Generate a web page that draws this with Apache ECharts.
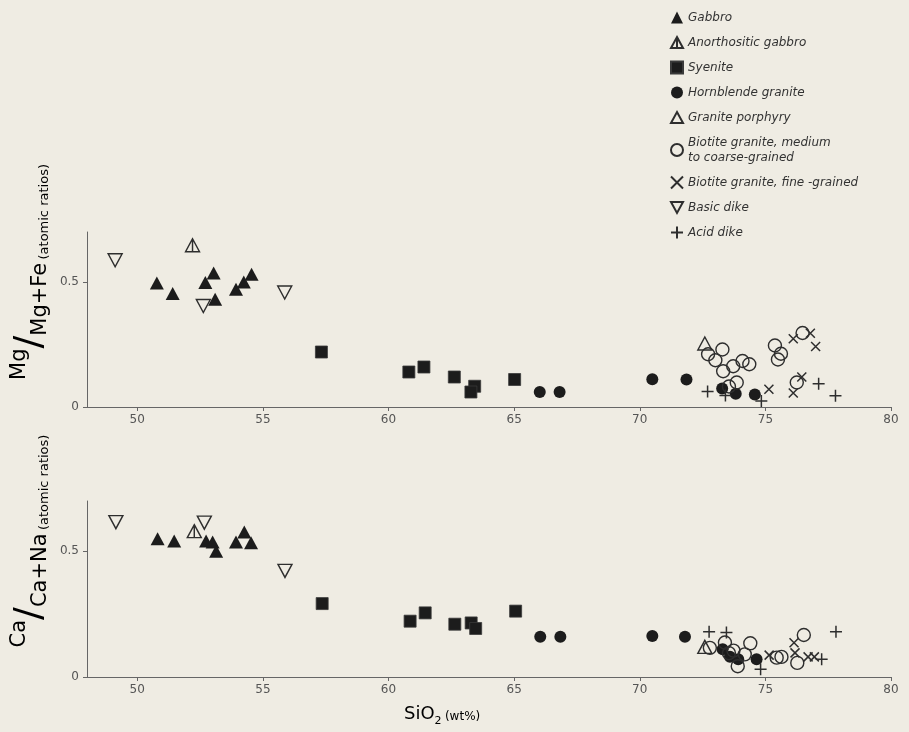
<!DOCTYPE html>
<html><head><meta charset="utf-8">
<script src="https://cdn.jsdelivr.net/npm/echarts@6/dist/echarts.min.js"></script>
<style>html,body{margin:0;padding:0;background:#efece3}#c{width:909px;height:732px}</style>
</head><body><div id="c"></div>
<script>
// ---- tick labels ----
const xTicks = [50, 55, 60, 65, 70, 75, 80];
const yTicks = [0, 0.5];
const groupNames = ['Gabbro','Anorthositic gabbro','Syenite','Hornblende granite','Granite porphyry',
  'Biotite granite, medium\nto coarse-grained','Biotite granite, fine -grained','Basic dike','Acid dike'];

// ---- Mg/(Mg+Fe) vs SiO2 : [SiO2, ratio] ----
const gabbroMg = [[50.78,0.496],[51.41,0.454],[52.71,0.498],[53.04,0.536],[53.10,0.431],[53.93,0.471],[54.24,0.50],[54.55,0.531]];
const anorthMg = [[52.2,0.647]];
const syeniteMg = [[57.33,0.22],[60.81,0.14],[61.41,0.16],[62.62,0.12],[63.43,0.083],[63.28,0.06],[65.02,0.11]];
const hornblendeMg = [[66.02,0.06],[66.81,0.06],[70.5,0.111],[71.86,0.11],[73.28,0.074],[73.82,0.053],[74.58,0.05]];
const porphyryMg = [[72.59,0.254]];
const biotiteMcMg = [[72.72,0.211],[73.29,0.23],[73.01,0.187],[73.32,0.143],[73.72,0.163],[74.09,0.184],[74.36,0.171],[73.86,0.098],[73.55,0.082],[75.38,0.246],[75.62,0.213],[75.5,0.19],[76.48,0.296],[76.25,0.098]];
const biotiteFineMg = [[75.14,0.071],[76.11,0.273],[76.79,0.295],[77.0,0.242],[76.45,0.12],[76.11,0.056]];
const basicDikeMg = [[49.12,0.587],[52.63,0.404],[55.87,0.458]];
const acidDikeMg = [[72.70,0.062],[73.41,0.046],[74.84,0.024],[77.12,0.093],[77.79,0.045]];

// ---- Ca/(Ca+Na) vs SiO2 : [SiO2, ratio] ----
const gabbroCa = [[50.81,0.55],[51.47,0.541],[52.74,0.541],[53.0,0.537],[53.14,0.50],[53.93,0.537],[54.26,0.577],[54.53,0.534]];
const anorthCa = [[52.27,0.58]];
const syeniteCa = [[57.36,0.292],[60.86,0.222],[61.46,0.255],[62.64,0.21],[63.29,0.215],[63.47,0.193],[65.06,0.262]];
const hornblendeCa = [[66.04,0.16],[66.84,0.16],[70.5,0.163],[71.8,0.16],[73.3,0.11],[73.59,0.081],[73.92,0.071],[74.65,0.071]];
const porphyryCa = [[72.59,0.12]];
const biotiteMcCa = [[72.79,0.116],[73.39,0.137],[73.73,0.105],[73.9,0.043],[74.4,0.134],[74.18,0.09],[75.45,0.077],[75.64,0.08],[76.53,0.167],[76.27,0.056],[73.55,0.095]];
const biotiteFineCa = [[75.15,0.087],[76.14,0.136],[76.18,0.096],[76.7,0.08],[76.95,0.08]];
const basicDikeCa = [[49.15,0.616],[52.67,0.614],[55.88,0.422]];
const acidDikeCa = [[72.76,0.18],[73.45,0.177],[74.81,0.031],[77.24,0.071],[77.81,0.18]];

const BG = '#efece3', INK = '#1c1c1c', LINE = '#2e2e2e';
const styles = [
  {symbol:'triangle', symbolSize:[14,13], itemStyle:{color:INK}},
  {symbol:'path://M5,0L10,9L0,9ZM5,0L5,9', symbolSize:[14,13], itemStyle:{color:BG, borderColor:LINE, borderWidth:1.4}},
  {symbol:'rect', symbolSize:12, itemStyle:{color:INK, borderColor:'#3a3a3a', borderWidth:0.8}},
  {symbol:'circle', symbolSize:12, itemStyle:{color:INK}},
  {symbol:'path://M5,0L10,9L0,9Z', symbolSize:[14,13], itemStyle:{color:'rgba(0,0,0,0)', borderColor:LINE, borderWidth:1.4}},
  {symbol:'circle', symbolSize:13, itemStyle:{color:'rgba(0,0,0,0)', borderColor:LINE, borderWidth:1.4}},
  {symbol:'path://M0,0L10,10M10,0L0,10', symbolSize:9, itemStyle:{color:'rgba(0,0,0,0)', borderColor:LINE, borderWidth:1.5}},
  {symbol:'path://M0,0L10,0L5,9Z', symbolSize:[14,13], itemStyle:{color:BG, borderColor:LINE, borderWidth:1.4}},
  {symbol:'path://M5,0L5,10M0,5L10,5', symbolSize:12, itemStyle:{color:'rgba(0,0,0,0)', borderColor:LINE, borderWidth:1.5}}
];
const mgData = [gabbroMg, anorthMg, syeniteMg, hornblendeMg, porphyryMg, biotiteMcMg, biotiteFineMg, basicDikeMg, acidDikeMg];
const caData = [gabbroCa, anorthCa, syeniteCa, hornblendeCa, porphyryCa, biotiteMcCa, biotiteFineCa, basicDikeCa, acidDikeCa];

const series = [];
groupNames.forEach((n, i) => {
  [mgData[i], caData[i]].forEach((d, k) => {
    const st = JSON.parse(JSON.stringify(styles[i]));
    st.itemStyle.opacity = 1;
    series.push(Object.assign({type:'scatter', name:n, xAxisIndex:k, yAxisIndex:k, data:d,
      emphasis:{disabled:true}, z: 2 + (i===1||i===7 ? 1 : 0)}, st));
  });
});

const axisFont = {fontFamily:'DejaVu Sans', fontSize:12, color:'#555'};
function xAx(g){ return {type:'value', gridIndex:g, min:48, max:80, splitLine:{show:false},
  axisLine:{onZero:false, lineStyle:{color:'#666', width:1}},
  axisTick:{customValues:xTicks, length:4, lineStyle:{color:'#666'}},
  axisLabel:Object.assign({customValues:xTicks, margin:7}, axisFont)}; }
function yAx(g){ return {type:'value', gridIndex:g, min:0, max:0.7, splitLine:{show:false},
  axisLine:{show:true, lineStyle:{color:'#666', width:1}},
  axisTick:{show:true, customValues:yTicks, length:4, lineStyle:{color:'#666'}},
  axisLabel:Object.assign({customValues:yTicks, margin:8, formatter:v=>String(v)}, axisFont)}; }

const rich = {
  sup:{fontFamily:'DejaVu Sans', fontSize:21, color:'#444', verticalAlign:'top', lineHeight:22},
  sl:{fontFamily:'DejaVu Sans', fontSize:38, color:'#444', lineHeight:42, verticalAlign:'middle'},
  big:{fontFamily:'DejaVu Sans', fontSize:21, color:'#444', verticalAlign:'bottom', lineHeight:22},
  sm:{fontFamily:'DejaVu Sans', fontSize:13, color:'#555', verticalAlign:'bottom', lineHeight:17}
};

const chart = echarts.init(document.getElementById('c'), null, {renderer:'canvas'});
chart.setOption({
  backgroundColor: BG,
  animation:false,
  grid:[{left:87, right:18, top:232, height:175}, {left:87, right:18, top:501, height:176}],
  xAxis:[xAx(0), xAx(1)],
  yAxis:[yAx(0), yAx(1)],
  legend:{orient:'vertical', left:665, top:5, itemWidth:12, itemHeight:12, itemGap:10,
    data:groupNames, selectedMode:false,
    textStyle:{fontFamily:'DejaVu Sans', fontStyle:'italic', fontSize:12, color:'#333', lineHeight:15}},
  graphic:[
    {type:'text', x:30, y:272, rotation:Math.PI/2,
      style:{text:'{sup|Mg}{sl|/}{big|Mg+Fe} {sm|(atomic ratios)}', rich:rich, align:'center', verticalAlign:'middle'}},
    {type:'text', x:30, y:541, rotation:Math.PI/2,
      style:{text:'{sup|Ca}{sl|/}{big|Ca+Na} {sm|(atomic ratios)}', rich:rich, align:'center', verticalAlign:'middle'}},
    {type:'text', left:404, top:705,
      style:{text:'{a|SiO}{b|2} {c|(wt%)}', rich:{
        a:{fontFamily:'DejaVu Sans', fontSize:18, color:'#444', verticalAlign:'bottom', lineHeight:22},
        b:{fontFamily:'DejaVu Sans', fontSize:11, color:'#444', verticalAlign:'bottom', lineHeight:16, padding:[0,0,-4,0]},
        c:{fontFamily:'DejaVu Sans', fontSize:12, color:'#555', verticalAlign:'bottom', lineHeight:18}}}}
  ],
  series: series
});
</script></body></html>
